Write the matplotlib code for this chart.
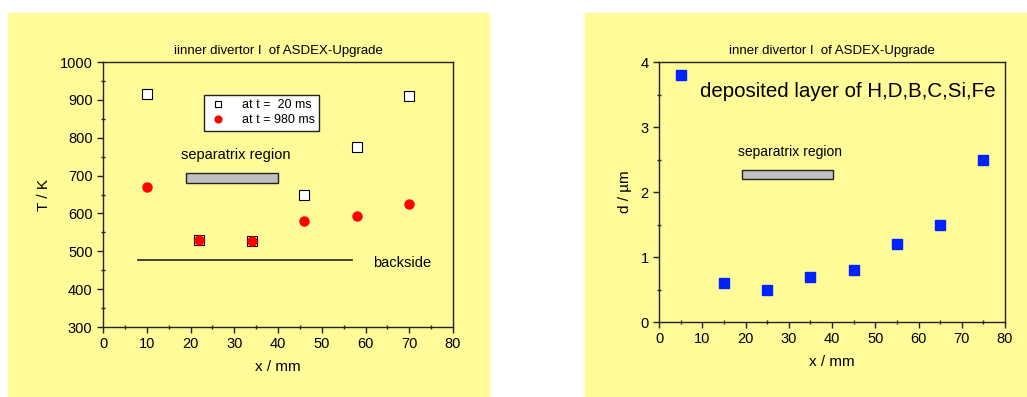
import matplotlib
matplotlib.use("Agg")
import matplotlib.pyplot as plt
from matplotlib.patches import Rectangle
from matplotlib.ticker import MultipleLocator

plt.rcParams['font.family'] = ['Liberation Sans', 'DejaVu Sans']

# left panel: temperature
x_T = [10, 22, 34, 46, 58, 70]
T_20ms = [915, 530, 527, 650, 775, 910]
T_980ms = [670, 530, 527, 580, 592, 625]
sep_T = (19, 40, 680, 707)      # x0, x1, y0, y1
backside_x = [8, 57]
backside_T = [477, 477]

# right panel: deposited layer thickness
x_d = [5, 15, 25, 35, 45, 55, 65, 75]
d_um = [3.8, 0.6, 0.5, 0.7, 0.8, 1.2, 1.5, 2.5]
sep_d = (19.3, 40.3, 2.2, 2.34)

yellow = '#fffb98'
dark = '#222222'

fig = plt.figure(figsize=(10.27, 3.97), dpi=100)
fig.patches.append(Rectangle((8 / 1027, 0), 481 / 1027, 384 / 397,
                             transform=fig.transFigure, color=yellow, zorder=-1))
fig.patches.append(Rectangle((585 / 1027, 0), 442 / 1027, 384 / 397,
                             transform=fig.transFigure, color=yellow, zorder=-1))

ax1 = fig.add_axes([0.1003, 0.1763, 0.3408, 0.6675])
ax2 = fig.add_axes([0.6417, 0.1889, 0.3369, 0.6549])

for ax in (ax1, ax2):
    ax.set_facecolor(yellow)
    for s in ax.spines.values():
        s.set_color(dark)
        s.set_linewidth(1.0)
    ax.tick_params(which='major', direction='out', length=4, width=1,
                   color=dark, labelsize=10.5, labelcolor='black')
    ax.tick_params(which='minor', direction='inout', length=3, width=1, color=dark)
    ax.tick_params(top=False, right=False)

# left
ax1.set_xlim(0, 80)
ax1.set_ylim(300, 1000)
ax1.xaxis.set_major_locator(MultipleLocator(10))
ax1.xaxis.set_minor_locator(MultipleLocator(5))
ax1.yaxis.set_major_locator(MultipleLocator(100))
ax1.yaxis.set_minor_locator(MultipleLocator(50))
ax1.plot(x_T, T_20ms, 's', ms=6.5, mfc='white', mec='black', mew=0.8,
         label='at t =  20 ms', zorder=3)
ax1.plot(x_T, T_980ms, 'o', ms=6.5, mfc='red', mec='red',
         label='at t = 980 ms', zorder=4)
ax1.add_patch(Rectangle((sep_T[0], sep_T[2]), sep_T[1] - sep_T[0], sep_T[3] - sep_T[2],
                        facecolor='#c0c0c0', edgecolor=dark, lw=1, zorder=2))
ax1.plot(backside_x, backside_T, color=dark, lw=1.2)
ax1.text(17.8, 754, 'separatrix region', fontsize=10.5, va='center')
ax1.text(61.7, 469, 'backside', fontsize=10.5, va='center')
ax1.set_title('iinner divertor I  of ASDEX-Upgrade', fontsize=9.5, pad=6)
ax1.set_xlabel('x / mm', fontsize=11, labelpad=6)
ax1.set_ylabel('T / K', fontsize=11, labelpad=6)
leg = ax1.legend(loc='upper left', bbox_to_anchor=(0.27, 0.9), fontsize=9,
                 frameon=True, fancybox=False, edgecolor=dark, facecolor='white',
                 framealpha=1, handlelength=1.5, handletextpad=1.2,
                 borderpad=0.35, labelspacing=0.25, markerscale=0.75)
leg.get_frame().set_linewidth(1.0)

# right
ax2.set_xlim(0, 80)
ax2.set_ylim(0, 4)
ax2.xaxis.set_major_locator(MultipleLocator(10))
ax2.xaxis.set_minor_locator(MultipleLocator(5))
ax2.yaxis.set_major_locator(MultipleLocator(1))
ax2.yaxis.set_minor_locator(MultipleLocator(0.5))
ax2.plot(x_d, d_um, 's', ms=7, mfc='#0022ff', mec='#0022ff', zorder=3)
ax2.add_patch(Rectangle((sep_d[0], sep_d[2]), sep_d[1] - sep_d[0], sep_d[3] - sep_d[2],
                        facecolor='#c0c0c0', edgecolor=dark, lw=1, zorder=2))
ax2.text(18.3, 2.61, 'separatrix region', fontsize=10, va='center')
ax2.text(9.5, 3.54, 'deposited layer of H,D,B,C,Si,Fe', fontsize=14.8, va='center')
ax2.set_title('inner divertor I  of ASDEX-Upgrade', fontsize=9.5, pad=6)
ax2.set_xlabel('x / mm', fontsize=11, labelpad=6)
ax2.set_ylabel('d / µm', fontsize=11, labelpad=6)

fig.savefig('out.png', dpi=100)
